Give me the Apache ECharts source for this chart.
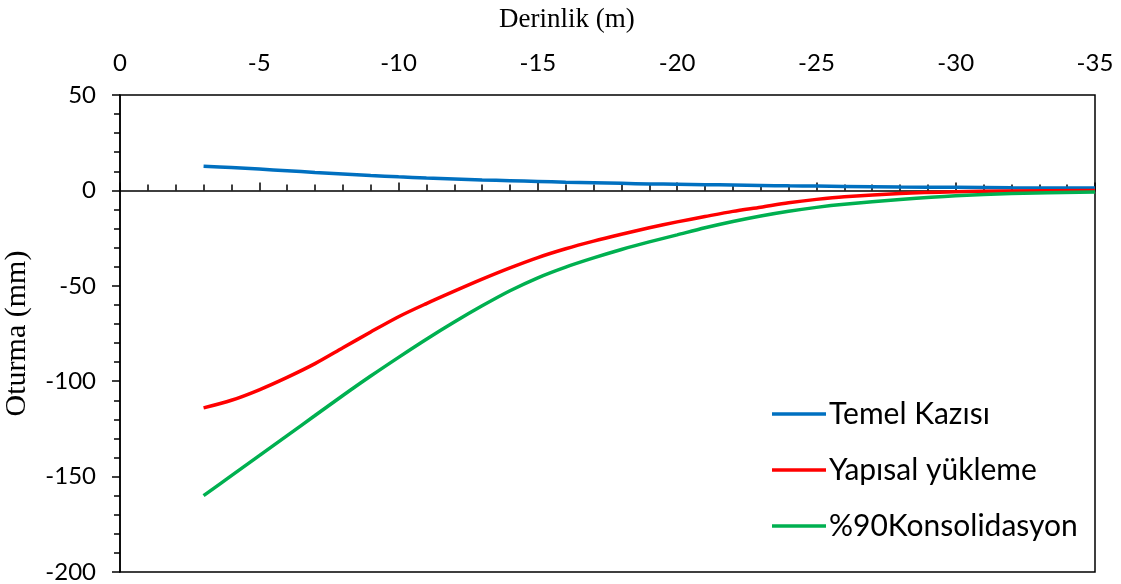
<!DOCTYPE html>
<html>
<head>
<meta charset="utf-8">
<script src="https://cdn.jsdelivr.net/npm/echarts@6/dist/echarts.min.js"></script>
<style>
  html, body { margin: 0; padding: 0; background: #fff; }
  #chart { width: 1121px; height: 584px; }
</style>
</head>
<body>
<div id="chart"></div>
<script>
// Depths (m) at which settlement was computed
const depths = [-3, -4, -5, -6, -7, -8, -9, -10, -11, -12, -13, -14, -15, -16, -17, -18, -19, -20, -21, -22, -23, -24, -25, -26, -28, -30, -32, -35];

// Settlement (mm) per loading stage
const temelKazisi = [12.7, 12.0, 11.2, 10.3, 9.4, 8.6, 7.8, 7.1, 6.5, 6.0, 5.5, 5.1, 4.7, 4.3, 4.0, 3.7, 3.4, 3.2, 3.0, 2.8, 2.6, 2.4, 2.25, 2.1, 1.8, 1.6, 1.4, 1.2];
const yapisalYukleme = [-114, -110, -104.5, -98, -90.8, -82.5, -74.2, -66.2, -59.3, -52.8, -46.5, -40.6, -35.2, -30.6, -26.6, -23.0, -19.6, -16.5, -13.7, -11.0, -8.8, -6.5, -4.7, -3.3, -1.6, -0.7, -0.3, 0];
const konsolidasyon90 = [-160, -149.5, -139, -128.5, -118, -107.5, -97.3, -87.5, -78, -69, -60.5, -52.6, -45.8, -40.2, -35.4, -31.0, -27.0, -23.3, -19.6, -16.3, -13.4, -10.9, -8.9, -7.3, -4.8, -2.8, -1.6, -0.8];

const seriesNames = ['Temel Kazısı', 'Yapısal yükleme', '%90Konsolidasyon'];
const seriesColors = ['#0070C0', '#FF0000', '#00B050'];
const seriesValues = [temelKazisi, yapisalYukleme, konsolidasyon90];

const tickFont = 'Lato, "Open Sans", sans-serif';
const serifFont = '"Liberation Serif", "DejaVu Serif", serif';

const chart = echarts.init(document.getElementById('chart'));

chart.setOption({
  animation: false,
  backgroundColor: '#fff',
  title: {
    text: 'Derinlik (m)',
    left: 494,
    top: 1,
    textStyle: { fontFamily: serifFont, fontSize: 27, fontWeight: 'normal', color: '#000' }
  },
  legend: {
    orient: 'vertical',
    left: 767,
    top: 394,
    itemGap: 26,
    itemWidth: 54,
    itemHeight: 3.5,
    icon: 'rect',
    data: seriesNames,
    textStyle: { fontFamily: tickFont, fontSize: 30, color: '#000', padding: [0, 0, 0, -2] }
  },
  grid: {
    left: 120, right: 26, top: 95, bottom: 12,
    outerBoundsMode: 'none',
    containLabel: false,
    show: true,
    borderColor: '#000',
    borderWidth: 1.5,
    backgroundColor: 'transparent'
  },
  xAxis: [
    {
      // tick labels along the top edge
      type: 'value',
      position: 'top',
      min: -35, max: 0, interval: 5,
      inverse: true,
      axisLine: { show: false, onZero: false },
      axisTick: { show: false },
      splitLine: { show: false },
      axisLabel: { fontFamily: tickFont, fontSize: 24, color: '#000', margin: 20 }
    },
    {
      // axis line crossing at zero settlement, ticks pointing up
      type: 'value',
      position: 'bottom',
      min: -35, max: 0, interval: 5,
      inverse: true,
      axisLine: { show: true, onZero: true, lineStyle: { color: '#000', width: 1.5 } },
      axisTick: { show: true, inside: true, length: 8, lineStyle: { color: '#000', width: 1.5 } },
      minorTick: { show: true, splitNumber: 5, length: 6, lineStyle: { color: '#000', width: 1.5 } },
      splitLine: { show: false },
      axisLabel: { show: false }
    }
  ],
  yAxis: {
    type: 'value',
    min: -200, max: 50, interval: 50,
    name: 'Oturma (mm)',
    nameLocation: 'middle',
    nameGap: 88,
    nameTextStyle: { fontFamily: serifFont, fontSize: 30, color: '#000' },
    axisLine: { show: true, onZero: false, lineStyle: { color: '#000', width: 1.5 } },
    axisTick: { show: true, length: 8, lineStyle: { color: '#000', width: 1.5 } },
    minorTick: { show: true, splitNumber: 5, length: 6, lineStyle: { color: '#000', width: 1.5 } },
    splitLine: { show: false },
    axisLabel: { fontFamily: tickFont, fontSize: 24, color: '#000', margin: 24 }
  },
  series: seriesNames.map((name, i) => ({
    name: name,
    type: 'line',
    xAxisIndex: 0,
    smooth: 0.3,
    symbol: 'none',
    color: seriesColors[i],
    lineStyle: { width: 3.5, color: seriesColors[i] },
    data: depths.map((d, k) => [d, seriesValues[i][k]])
  }))
});
</script>
</body>
</html>
